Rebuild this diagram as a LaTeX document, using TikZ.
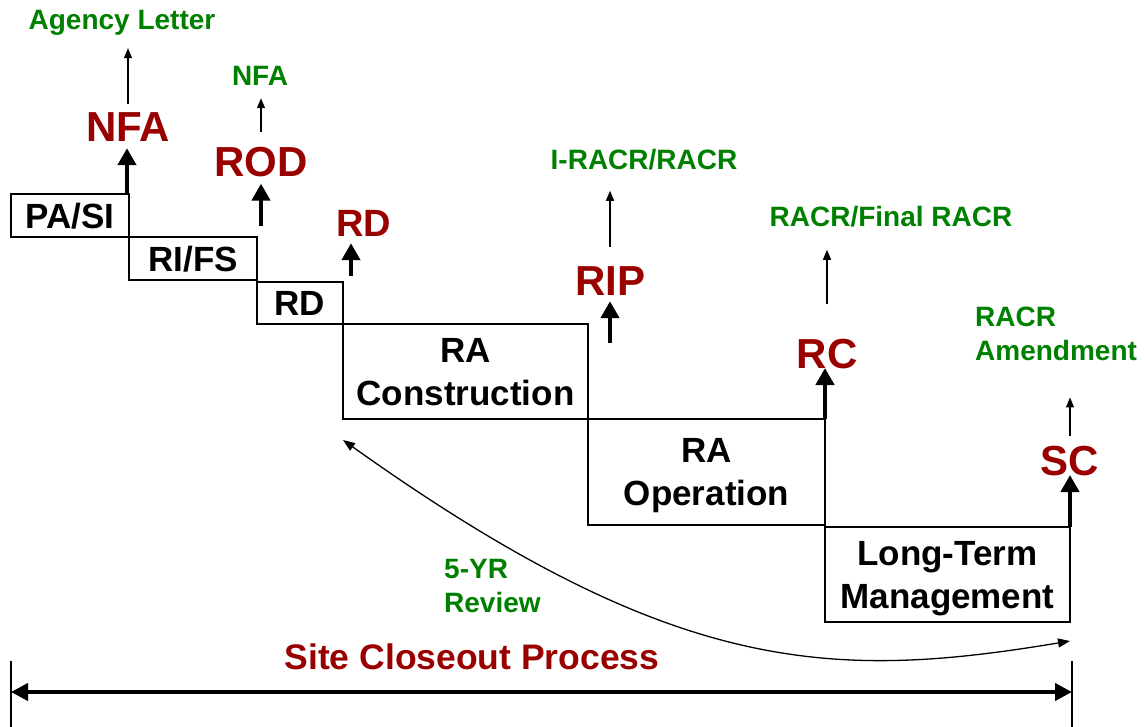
\documentclass[tikz,border=0pt]{standalone}
\usepackage{fontspec}
\setmainfont{Liberation Sans}
\usepackage{tikz}
\usetikzlibrary{arrows.meta,positioning}
\definecolor{darkred}{RGB}{153,0,0}
\definecolor{docgreen}{RGB}{0,128,0}
\tikzstyle{stage} = [draw, line width=1.3pt, anchor=north west, inner sep=0pt, outer sep=0pt, align=center, text depth=0pt, font=\fontsize{35}{43}\selectfont\bfseries]
\tikzstyle{milestone} = [anchor=base, inner sep=6pt, text=darkred, font=\fontsize{42}{48}\selectfont\bfseries]
\tikzstyle{report} = [anchor=base, inner sep=4pt, text=docgreen, align=left, font=\fontsize{28}{34}\selectfont\bfseries]
\tikzstyle{push} = [draw, line width=4.5pt, -{Triangle[length=17pt,width=18pt]}]
\tikzstyle{arrow} = [draw, line width=1.3pt, -{Triangle[length=10pt,width=8pt]}]
\tikzstyle{line} = [draw, line width=1.3pt]
\tikzstyle{span} = [draw, line width=4pt, {Triangle[length=17pt,width=17pt]}-{Triangle[length=17pt,width=17pt]}]
\newcommand{\stage}[4]{node (s#1) [stage, minimum width=#2pt, minimum height=#3pt] {#4}}
\newcommand{\milestone}[2]{node (m#1) [milestone] {#2}}
\newcommand{\report}[3]{node (r#1) [report,#2] {#3}}

\begin{document}
\begin{tikzpicture}[x=1pt,y=-1pt]
\useasboundingbox (0,0) rectangle (1145,727);

% the staircase of phases
\path (11,194) \stage{1}{118}{43}{PA/SI};
\path (s1.south east) \stage{2}{128}{43}{RI/FS};
\path ([yshift=-2pt]s2.south east) \stage{3}{86}{42}{RD};
\path (s3.south east) \stage{4}{245}{95}{RA\\Construction};
\path (s4.south east) \stage{5}{237}{106}{RA\\Operation};
\path ([yshift=-2pt]s5.south east) \stage{6}{245}{95}{Long-Term\\Management};

% decision documents
\path (128,142) \milestone{1}{NFA};
\path (261,177) \milestone{2}{ROD};
\path (364,237) \milestone{3}{\fontsize{38}{44}\selectfont RD};
\path (610,295) \milestone{4}{RIP};
\path (827,368) \milestone{5}{RC};
\path (1070,475) \milestone{6}{SC};

% reports
\path (122,30) \report{1}{}{Agency Letter};
\path (260,86) \report{2}{}{NFA};
\path (644,170) \report{3}{}{I-RACR/RACR};
\path (891,227) \report{4}{}{RACR/Final RACR};
\path (971,360) \report{5}{anchor=base west}{RACR\\Amendment};
\path (440,612) \report{6}{anchor=base west}{5-YR\\Review};

\coordinate (a1) at ([xshift=-2pt]s1.north east);
\coordinate (a2) at (261,226);
\coordinate (a3) at (351,276);
\coordinate (a4) at (610,343);
\path [push] (a1) -- (a1 |- m1.south);
\path [push] (a2) -- (a2 |- m2.south);
\path [push] (a3) -- (a3 |- m3.south);
\path [push] (a4) -- (a4 |- m4.south);
\path [push] (s5.north east) -- (s5.north east |- m5.base);
\path [push] (s6.north east) -- (s6.north east |- m6.base);

\path [arrow, shorten >=8pt] ([yshift=3pt]m1.north) -- (m1.north |- r1.south);
\path [arrow, shorten >=8pt] ([yshift=9pt]m2.north) -- (m2.north |- r2.south);
\path [arrow, shorten >=16pt] ([yshift=13pt]m4.north) -- (m4.north |- r3.south);
\path [arrow, shorten >=18pt] ([yshift=28pt]m5.north) -- (m5.north |- r4.south);
\path [arrow, shorten >=33pt] ([yshift=3pt]m6.north) -- (m6.north |- r5.south);

% review loop
\coordinate (b0) at ([yshift=-21pt]s4.south west);
\coordinate (b1) at ([yshift=-19pt]s6.south east);
\path [line, {Triangle[length=12pt,width=9pt]}-{Triangle[length=12pt,width=9pt]}] (b0) .. controls +(330,235) and +(-240,40) .. (b1);

% overall span
\path (472,669) node (title) [anchor=base, text=darkred, font=\fontsize{35.5}{40}\selectfont\bfseries] {Site Closeout Process};
\coordinate (d0) at (11,692);
\coordinate (d1) at (1072,692);
\path [span] (d0) -- (d1);
\path [line] ([yshift=31pt]d0) -- ([yshift=-35pt]d0);
\path [line] ([yshift=31pt]d1) -- ([yshift=-35pt]d1);
\end{tikzpicture}
\end{document}
